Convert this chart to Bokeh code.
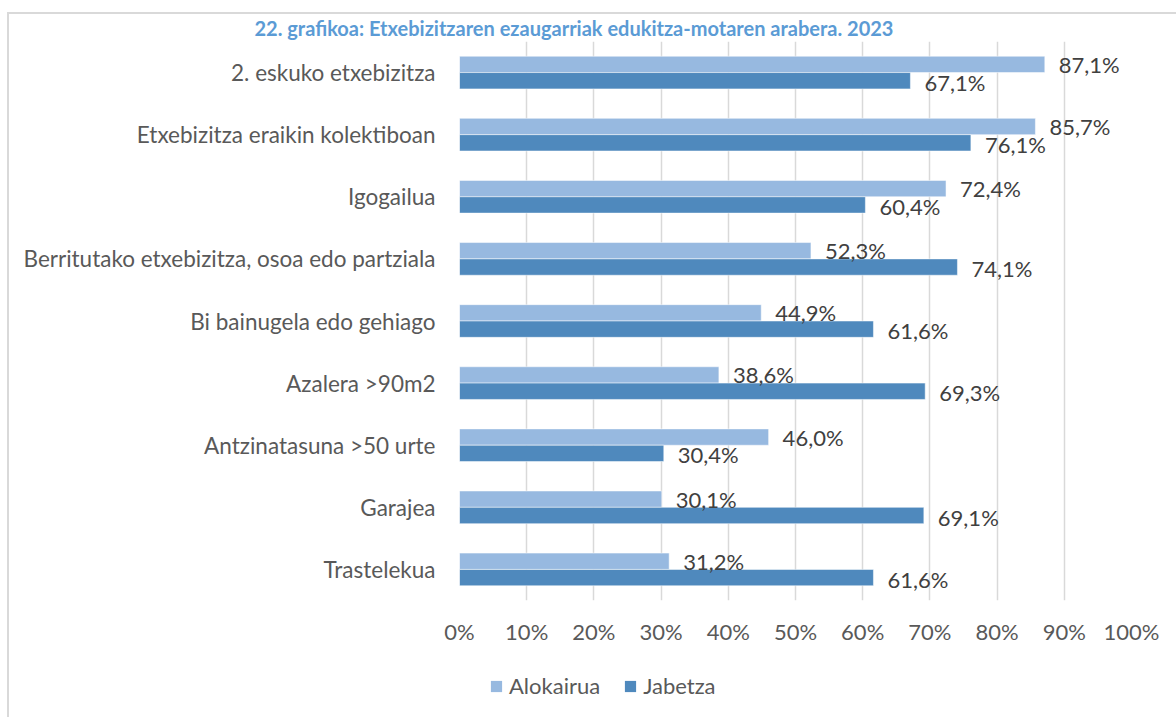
from bokeh.plotting import figure
from bokeh.layouts import column
from bokeh.models import (FactorRange, Range1d, FixedTicker, PrintfTickFormatter,
                          ColumnDataSource, Legend, LegendItem)
from bokeh.transform import dodge
from bokeh.core.properties import value
from bokeh.embed import file_html
from bokeh.resources import INLINE

title_text = "22. grafikoa: Etxebizitzaren ezaugarriak edukitza-motaren arabera. 2023"
categories = ["2. eskuko etxebizitza", "Etxebizitza eraikin kolektiboan", "Igogailua",
              "Berritutako etxebizitza, osoa edo partziala", "Bi bainugela edo gehiago",
              "Azalera >90m2", "Antzinatasuna >50 urte", "Garajea", "Trastelekua"]
alokairua = [87.1, 85.7, 72.4, 52.3, 44.9, 38.6, 46.0, 30.1, 31.2]
jabetza = [67.1, 76.1, 60.4, 74.1, 61.6, 69.3, 30.4, 69.1, 61.6]
series_names = ["Alokairua", "Jabetza"]
x_ticks = [0, 10, 20, 30, 40, 50, 60, 70, 80, 90, 100]

FONT = "Lato"
LIGHT = "#97B9E0"
DARK = "#4F89BD"
BOX = "#D9D9D9"

def fmt(v):
    return ("%.1f" % v).replace(".", ",") + "%"

src = ColumnDataSource(dict(
    cat=categories,
    alok=alokairua,
    jab=jabetza,
    alok_lbl=[fmt(v) for v in alokairua],
    jab_lbl=[fmt(v) for v in jabetza],
))

# ---- main chart ----
p = figure(width=1176, height=660, output_backend="svg", toolbar_location=None,
           y_range=FactorRange(factors=list(reversed(categories))),
           x_range=Range1d(0, 100),
           min_border_left=459, min_border_right=45, min_border_top=41, min_border_bottom=60)
p.outline_line_color = None
p.background_fill_color = None
p.border_fill_color = None

p.title.text = title_text
p.title.align = "left"
p.title.offset = -205
p.title.standoff = 4
p.title.text_font = FONT
p.title.text_font_style = "bold"
p.title.text_font_size = "20px"
p.title.text_color = "#5B9BD5"

off = 0.1315
hb = 0.263
p.hbar(y=dodge("cat", off, range=p.y_range), right="alok", left=0, height=hb,
       source=src, fill_color=LIGHT, line_color="white", line_alpha=0.5, line_width=1)
p.hbar(y=dodge("cat", -off, range=p.y_range), right="jab", left=0, height=hb,
       source=src, fill_color=DARK, line_color="white", line_alpha=0.5, line_width=1)

p.text(x="alok", y=dodge("cat", off, range=p.y_range), text="alok_lbl", source=src,
       x_offset=14, y_offset=0, text_baseline="middle", text_align="left",
       text_font=value(FONT), text_font_size="22px", text_color="#404040")
p.text(x="jab", y=dodge("cat", -off, range=p.y_range), text="jab_lbl", source=src,
       x_offset=14, y_offset=1.5, text_baseline="middle", text_align="left",
       text_font=value(FONT), text_font_size="22px", text_color="#404040")

p.xgrid.grid_line_color = BOX
p.xgrid.grid_line_width = 1.5
p.ygrid.grid_line_color = None

p.xaxis.ticker = FixedTicker(ticks=x_ticks)
p.xaxis.formatter = PrintfTickFormatter(format="%d%%")
for ax in (p.xaxis, p.yaxis):
    ax.axis_line_color = None
    ax.major_tick_line_color = None
    ax.minor_tick_line_color = None
    ax.major_tick_out = 0
    ax.major_tick_in = 0
    ax.major_label_text_font = FONT
    ax.major_label_text_color = "#595959"
p.xaxis.major_label_text_font_size = "22px"
p.yaxis.major_label_text_font_size = "22.5px"
p.xaxis.major_label_standoff = 17
p.yaxis.major_label_standoff = 24

# ---- legend strip (frame aligned with the chart frame by the column layout) ----
lp = figure(width=1176, height=57, output_backend="svg", toolbar_location=None,
            x_range=Range1d(0, 100), y_range=Range1d(0, 100),
            x_axis_type=None, y_axis_type=None,
            min_border_left=0, min_border_right=0, min_border_top=0, min_border_bottom=0)
lp.outline_line_color = None
lp.background_fill_color = None
lp.border_fill_color = None
lp.grid.visible = False
# legend proxies (hidden renderers sharing the chart data)
l1 = lp.hbar(y="alok", left=0, right="alok", height=1, source=src,
             fill_color=LIGHT, line_color=None, visible=False)
l2 = lp.hbar(y="jab", left=0, right="jab", height=1, source=src,
             fill_color=DARK, line_color=None, visible=False)
legend = Legend(items=[LegendItem(label=series_names[0], renderers=[l1]),
                       LegendItem(label=series_names[1], renderers=[l2])],
                orientation="horizontal", location=(30, 18),
                glyph_width=14, glyph_height=14, label_standoff=6, spacing=23,
                padding=0, margin=0, border_line_color=None, background_fill_alpha=0,
                inactive_fill_alpha=0,
                label_text_font=FONT, label_text_font_size="22px", label_text_color="#595959")
lp.add_layout(legend)

layout = column(p, lp, spacing=0)
# chart-area frame line (left and top edges)
layout.styles = {
    "background-color": "white",
    "background-image": f"linear-gradient({BOX}, {BOX}), linear-gradient({BOX}, {BOX})",
    "background-size": "2px 100%, 100% 2px",
    "background-position": "7px 12px, 7px 12px",
    "background-repeat": "no-repeat",
}

open("out.html", "w").write(file_html(layout, INLINE))
